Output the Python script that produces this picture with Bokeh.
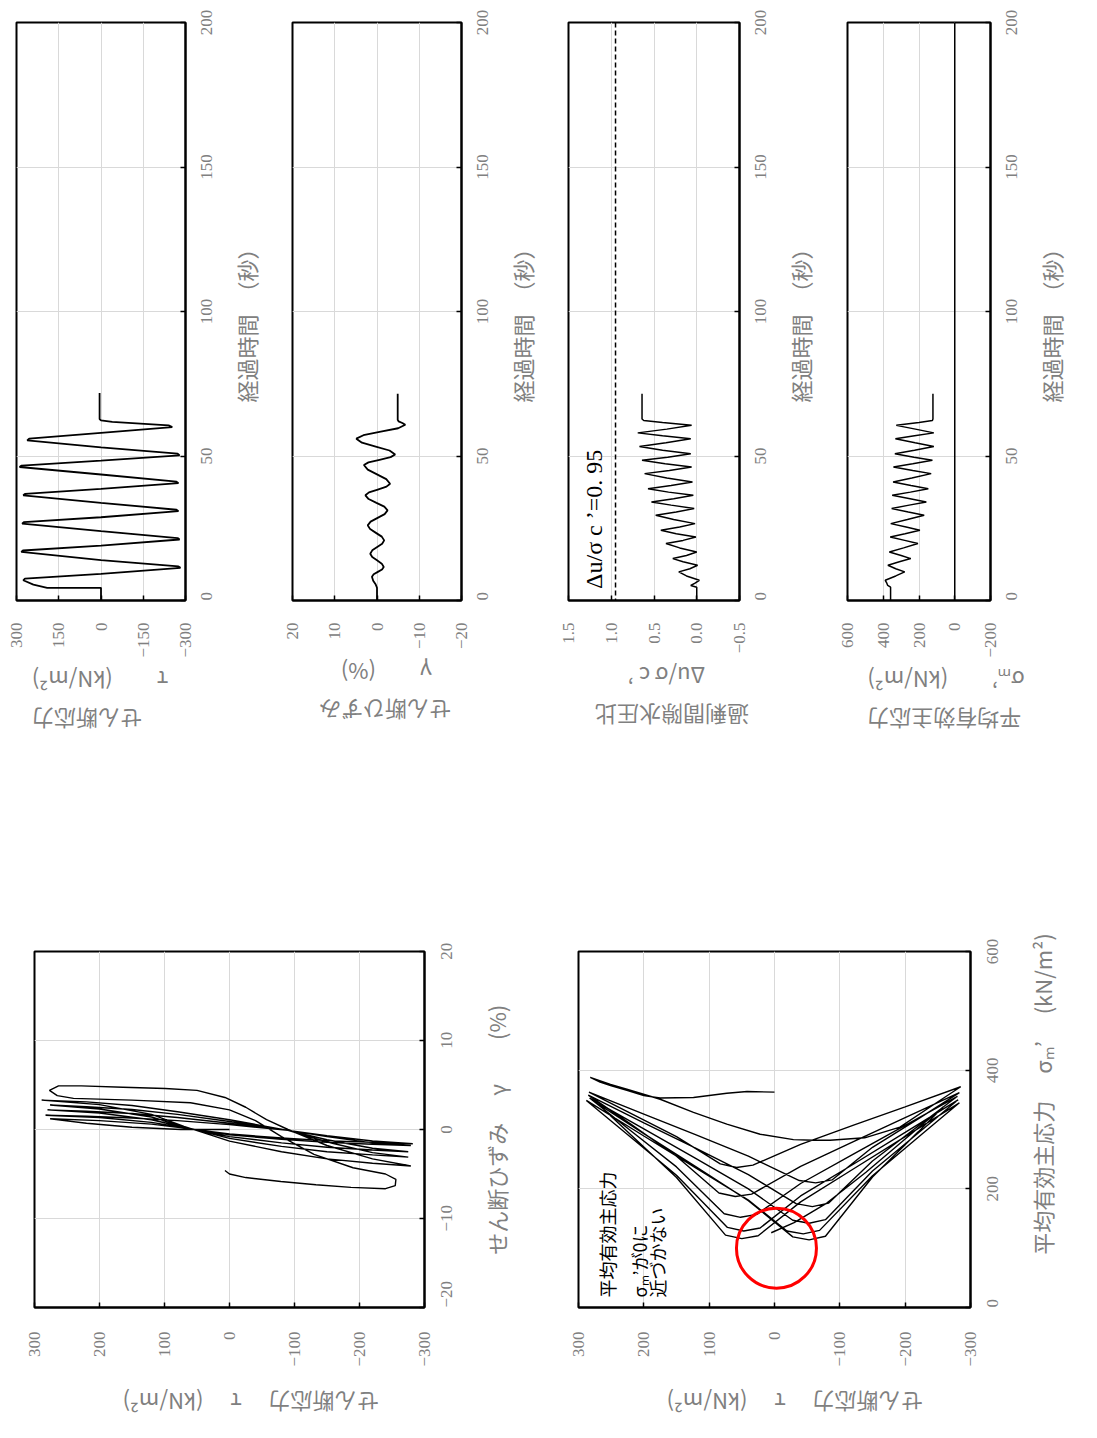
import math
from bokeh.plotting import figure
from bokeh.layouts import column, row
from bokeh.models import FixedTicker, Span, Label, LinearAxis
from bokeh.embed import file_html
from bokeh.resources import INLINE

# ---------------- data ----------------
# time series: shear stress tau (kN/m2)
t_tau = [0, 4.4, 4.4, 5.5, 7.0, 7.6, 9.2, 11.3, 11.8, 14.0, 16.8, 17.3, 19.0, 21.1, 21.6, 24.0,
         26.6, 27.1, 28.8, 30.9, 31.4, 33.8, 36.4, 36.9, 38.6, 40.6, 41.1, 43.6, 46.2, 46.7,
         48.4, 50.2, 50.8, 53.0, 55.4, 56.0, 58.0, 60.0, 60.6, 61.8, 62.3, 62.8, 71.8]
tau_series = [0, 0, 191, 240, 276, 270, 0, -282, -275, 0, 283, 277, 0, -279, -272, 0,
              280, 274, 0, -275, -268, 0, 276, 270, 0, -275, -268, 0, 289, 282,
              0, -279, -272, 0, 262, 255, 0, -253, -240, -40, 0, 5, 5]

# time series: shear strain gamma (%)
t_gamma = [0, 4.4, 5.5, 6.8, 8.2, 9.05, 9.9, 10.75, 11.6, 12.75, 13.9, 15.05, 16.2, 17.35, 18.5,
           19.65, 20.8, 22.1, 23.4, 24.7, 26.0, 27.3, 28.6, 29.9, 31.2, 32.5, 33.8, 35.1, 36.4,
           37.4, 38.4, 39.4, 40.4, 42.0, 43.65, 45.3, 46.9, 47.8, 48.7, 49.6, 50.5, 51.9, 53.25,
           54.6, 56.0, 57.2, 58.4, 59.6, 60.8, 61.4, 62.0, 62.5, 71.5]
gamma_series = [0, 0, 0.3, 0.9, 1.2, 0.79, -0.2, -1.19, -1.6, -1.13, 0, 1.13, 1.6, 1.12, -0.05,
                -1.22, -1.7, -1.13, 0.25, 1.63, 2.2, 1.51, -0.15, -1.81, -2.5, -1.73, 0.13, 1.98, 2.75,
                1.9, -0.18, -2.25, -3.1, -2.19, 0, 2.19, 3.1, 2.02, -0.6, -3.22, -4.3, -2.96, 0.3,
                3.56, 4.9, 3.21, -0.9, -5.01, -6.7, -6.0, -5.1, -4.9, -4.9]

# time series: excess pore pressure ratio
t_ratio = [0, 4.6, 5.2, 6.0, 7.0, 8.5, 9.9, 11.0, 12.2, 13.4, 14.5, 15.6, 16.8, 18.2, 19.7, 20.8,
           22.0, 23.1, 24.3, 25.4, 26.6, 28.0, 29.5, 30.6, 31.8, 33.0, 34.1, 35.2, 36.4, 37.5, 38.7,
           39.8, 41.0, 42.4, 43.9, 45.0, 46.2, 47.3, 48.5, 49.6, 50.8, 52.0, 53.3, 54.6, 56.0, 57.0,
           58.0, 59.3, 60.6, 61.6, 62.3, 62.8, 71.5]
ratio_series = [0, 0, 0.07, 0.02, -0.03, 0.12, 0.21, 0.08, -0.01, 0.16, 0.28, 0.12, 0.0, 0.2, 0.36, 0.16,
                0.01, 0.24, 0.42, 0.2, 0.02, 0.27, 0.48, 0.24, 0.03, 0.3, 0.53, 0.27, 0.04, 0.33, 0.57,
                0.3, 0.05, 0.35, 0.61, 0.32, 0.06, 0.37, 0.64, 0.34, 0.07, 0.4, 0.67, 0.36, 0.07, 0.4,
                0.69, 0.35, 0.06, 0.4, 0.62, 0.64, 0.64]
ratio_limit = 0.95

# time series: mean effective principal stress (kN/m2)
t_sigma = [0, 4.6, 5.2, 6.0, 7.0, 8.5, 9.9, 11.0, 12.2, 13.4, 14.5, 15.6, 16.8, 18.2, 19.7, 20.8,
           22.0, 23.1, 24.3, 25.4, 26.6, 28.0, 29.5, 30.6, 31.8, 33.0, 34.1, 35.2, 36.4, 37.5, 38.7,
           39.8, 41.0, 42.4, 43.9, 45.0, 46.2, 47.3, 48.5, 49.6, 50.8, 52.0, 53.3, 54.6, 56.0, 57.0,
           58.0, 59.3, 60.6, 61.6, 62.3, 62.8, 71.5]
sigma_series = [359, 359, 375, 380, 389, 330, 280, 330, 374, 310, 246, 300, 366, 286, 206, 280,
                361, 278, 195, 272, 358, 265, 171, 260, 353, 255, 159, 250, 350, 248, 148,
                245, 345, 240, 132, 235, 343, 235, 125, 228, 335, 225, 117, 222, 332, 225,
                117, 220, 327, 200, 125, 122, 122]

# tau - gamma loops
loop_tau = [0, 75, 150, 220, 276,
            200, 120, 70, 0, -80, -150, -220, -282,
            -220, -150, -90, 0, 80, 150, 220, 283,
            200, 120, 70, 0, -80, -150, -220, -279,
            -220, -150, -90, 0, 80, 150, 220, 280,
            200, 120, 70, 0, -80, -150, -220, -275,
            -220, -150, -90, 0, 80, 150, 220, 276,
            200, 120, 70, 0, -80, -150, -220, -275,
            -220, -150, -90, 0, 80, 150, 220, 289,
            200, 120, 70, 0, -80, -150, -220, -279,
            -220, -150, -90, -57, -25, 7, 50, 99, 164, 228, 263, 277,
            265, 240, 150, 60, 0, -40, -80, -130, -190, -240, -256, -255, -240,
            -187, -133, -79, -25, 0, 7]
loop_gamma = [0, 0, 0.25, 0.7, 1.2,
              1.0, 0.6, 0.15, -0.5, -0.95, -1.25, -1.45, -1.6,
              -1.3, -0.7, -0.1, 0.55, 1.0, 1.3, 1.5, 1.6,
              1.35, 0.8, 0.2, -0.6, -1.1, -1.45, -1.65, -1.8,
              -1.5, -0.8, -0.1, 0.7, 1.35, 1.8, 2.05, 2.2,
              1.85, 1.1, 0.25, -0.8, -1.5, -2.0, -2.3, -2.5,
              -2.1, -1.15, -0.1, 0.9, 1.7, 2.25, 2.55, 2.75,
              2.3, 1.4, 0.3, -1.0, -1.9, -2.5, -2.85, -3.1,
              -2.6, -1.4, -0.1, 1.1, 2.0, 2.7, 3.1, 3.3,
              2.8, 1.7, 0.35, -1.3, -2.5, -3.3, -3.8, -4.1,
              -3.3, -1.8, 0, 1.1, 2.5, 3.6, 4.4, 4.6, 4.75, 4.9, 4.9, 4.4,
              3.8, 3.5, 3.3, 3.0, 2.2, 1.0, -0.8, -2.8, -4.3, -5.0, -5.6, -6.3, -6.65,
              -6.5, -6.2, -5.85, -5.4, -5.0, -4.6]

# stress path: tau - sigma_m'
path_tau = [0, 42, 73, 124, 175, 200, 226, 251, 267, 282,
            251, 226, 175, 124, 73, 22, -29, -60, -85, -138, -192, -245, -285,
            -200, -120, -40, 33, 58, 83, 150, 220, 284,
            200, 120, 40, -38, -63, -88, -150, -220, -283,
            -200, -120, -40, 35, 60, 85, 150, 220, 285,
            200, 120, 40, -33, -58, -83, -150, -220, -280,
            -200, -120, -40, 27, 52, 77, 150, 220, 283,
            200, 120, 40, -28, -53, -78, -150, -220, -281,
            -200, -120, -40, 22, 47, 72, 150, 220, 288,
            200, 120, 40, -19, -44, -69, -150, -220, -283,
            -200, -120, -40, 25, 50, 75, 150, 220, 270,
            200, 120, 40, -28, -53, -78, -150, -220, -258,
            -200, -140, -80, -30, 5]
path_sigma = [363, 364, 361, 354, 353, 357, 366, 374, 380, 388,
              376, 368, 351, 329, 309, 292, 283, 282, 282, 286, 304, 343, 372,
              338, 307, 275, 240, 236, 242, 288, 327, 363,
              326, 291, 255, 214, 210, 215, 270, 318, 362,
              320, 279, 238, 191, 187, 193, 255, 309, 358,
              311, 268, 224, 175, 170, 176, 247, 306, 356,
              307, 258, 209, 157, 152, 158, 237, 298, 353,
              301, 251, 200, 147, 142, 148, 230, 294, 350,
              295, 241, 188, 134, 129, 135, 223, 287, 349,
              289, 235, 181, 129, 124, 130, 222, 287, 345,
              288, 233, 178, 121, 116, 122, 219, 291, 343,
              293, 237, 180, 119, 114, 120, 220, 296, 338,
              284, 228, 176, 143, 126]
circle_tau = [-3]
circle_sigma = [100]

# ticks
time_ticks = [0, 50, 100, 150, 200]
tau_ticks_ts = [300, 150, 0, -150, -300]
gamma_ticks_ts = [20, 10, 0, -10, -20]
ratio_ticks = [1.5, 1.0, 0.5, 0.0, -0.5]
sigma_ticks_ts = [600, 400, 200, 0, -200]
tau_ticks = [300, 200, 100, 0, -100, -200, -300]
gamma_ticks = [-20, -10, 0, 10, 20]
sigma_ticks = [0, 200, 400, 600]

# ---------------- styling ----------------
JP = "Noto Sans CJK JP"
NUM = "Liberation Serif"
GREY = "#808080"
FW = "\u3000"      # full-width space
EN = "\u2002"      # en space
TH = "\u2009"      # thin space
TICK_PX = 17


def fmt(v):
    s = ("%g" % v) if not isinstance(v, float) or v != int(v) else "%d" % v
    return s.replace("-", "\u2212")


def text_px(s):
    w = 0.0
    for ch in s:
        w += {"\u2212": 0.564, ".": 0.25}.get(ch, 0.5) * TICK_PX
    return w


def panel(w, h, bl, br, bt, bb, xr, yr, xticks, yticks, xlabel, ylabel,
          xstand, ystand, xlstand, ylstand, frame_h, xfmt=None):
    p = figure(width=w, height=h, x_range=xr, y_range=yr,
               x_axis_location="below", y_axis_location="right",
               output_backend="svg", toolbar_location=None,
               min_border_left=bl, min_border_right=br,
               min_border_top=bt, min_border_bottom=bb)
    p.outline_line_color = "black"
    p.outline_line_width = 2
    p.background_fill_color = "white"
    p.border_fill_color = "white"

    xa = p.xaxis[0]
    ya = p.yaxis[0]
    # rotated labels of the vertical axis start at their anchor, so a second,
    # line-less axis carries them, anchored half a label below each tick
    span = yr[1] - yr[0]
    ytexts = [fmt(v) for v in yticks]
    lab_pos = [v if v == yr[0] else v - text_px(t) / 2 * span / frame_h
               for v, t in zip(yticks, ytexts)]
    ylab = LinearAxis(ticker=FixedTicker(ticks=lab_pos),
                      major_label_overrides={pos: t for pos, t in zip(lab_pos, ytexts)})
    p.add_layout(ylab, "right")

    for ax, ticks in ((xa, xticks), (ya, yticks), (ylab, None)):
        if ticks is not None:
            ax.ticker = FixedTicker(ticks=ticks)
        ax.axis_line_color = "black"
        ax.axis_line_width = 2
        ax.major_tick_in = 5
        ax.major_tick_out = 0
        ax.minor_tick_in = 0
        ax.minor_tick_out = 0
        ax.major_tick_line_color = "black"
        ax.major_tick_line_width = 1.5
        ax.minor_tick_line_color = None
        ax.major_label_text_font = NUM
        ax.major_label_text_font_size = "%dpx" % TICK_PX
        ax.major_label_text_color = GREY
        ax.axis_label_text_font = JP
        ax.axis_label_text_font_size = "22px"
        ax.axis_label_text_color = GREY
        ax.axis_label_text_font_style = "normal"
    xa.major_label_overrides = {v: (xfmt(v) if xfmt else fmt(v)) for v in xticks}
    xa.major_label_orientation = math.pi / 2
    xa.major_label_standoff = xstand
    xa.axis_label = xlabel
    xa.axis_label_orientation = math.pi
    xa.axis_label_align = "end"
    xa.axis_label_standoff = xlstand

    ya.major_label_text_font_size = "0px"
    ya.major_label_standoff = 0
    ya.major_label_overrides = {v: "" for v in yticks}

    ylab.axis_line_color = None
    ylab.major_tick_line_color = None
    ylab.major_tick_in = 0
    ylab.major_label_orientation = math.pi / 2
    ylab.major_label_standoff = ystand
    ylab.axis_label = ylabel
    ylab.axis_label_orientation = math.pi / 2
    ylab.axis_label_align = "start"
    ylab.axis_label_standoff = ylstand

    p.xgrid.grid_line_color = "#d9d9d9"
    p.ygrid.grid_line_color = "#d9d9d9"
    p.xgrid.grid_line_width = 1
    p.ygrid.grid_line_width = 1
    return p


TIME_LABEL = FW * 9 + "経過時間" + FW + "（秒）"
TOP_B, TOP_F, BOT_B = 22, 578, 175
H_TOP = TOP_B + TOP_F + BOT_B

p1 = panel(280, H_TOP, 16, 95, TOP_B, BOT_B, (300, -300), (0, 200), tau_ticks_ts, time_ticks,
           "せん断応力" + EN + TH + "\nτ" + FW + FW + "(kN/m²)" + EN + TH,
           TIME_LABEL, 22, 21, 40, 25, TOP_F)
p1.line(tau_series, t_tau, line_color="black", line_width=1.8)

p2 = panel(276, H_TOP, 12, 94, TOP_B, BOT_B, (20, -20), (0, 200), gamma_ticks_ts, time_ticks,
           "せん断ひずみ" + FW + TH + "\nγ" + FW + FW + "(%)" + FW + FW + TH,
           TIME_LABEL, 22, 21, 40, 25, TOP_F)
p2.line(gamma_series, t_gamma, line_color="black", line_width=1.8)

p3 = panel(279, H_TOP, 12, 96, TOP_B, BOT_B, (1.5, -0.5), (0, 200), ratio_ticks, time_ticks,
           "過剰間隙水圧比" + FW + TH + "\nΔu/σ c ’" + FW + FW + EN + TH,
           TIME_LABEL, 22, 21, 40, 25, TOP_F,
           xfmt=lambda v: ("%.1f" % v).replace("-", "\u2212"))
p3.line(ratio_series, t_ratio, line_color="black", line_width=1.5)
p3.add_layout(Span(location=ratio_limit, dimension="height", line_color="black",
                   line_width=1.5, line_dash="5 3"))
p3.add_layout(Label(x=1.05, y=4.0, text="Δu/σ c ’=0. 95", angle=math.pi / 2,
                    text_align="left", text_baseline="bottom", text_font=NUM,
                    text_font_size="24px", text_color="black"))

p4 = panel(250, H_TOP, 12, 67, TOP_B, BOT_B, (600, -200), (0, 200), sigma_ticks_ts, time_ticks,
           "平均有効主応力" + EN + TH + TH + "\nσₘ’" + FW + FW + "(kN/m²)" + EN + TH + TH,
           TIME_LABEL, 22, 21, 40, 25, TOP_F)
p4.line(sigma_series, t_sigma, line_color="black", line_width=1.5)
p4.add_layout(Span(location=0, dimension="height", line_color="black", line_width=1.5))

# lower row: frames at y 945/951 .. 1307
A_TOP = 945 - H_TOP
B_TOP = 951 - H_TOP
LOW_B = 130
pA = panel(560, A_TOP + 362 + LOW_B, 34, 136, A_TOP, LOW_B, (300, -300), (-20, 20), tau_ticks, gamma_ticks,
           "せん断応力" + FW + " τ" + FW + " (kN/m²)" + FW * 4,
           FW + FW + TH + TH + "せん断ひずみ" + FW + " γ" + FW + FW + "(%)", 24, 22, 33, 35, 362)
pA.line(loop_tau, loop_gamma, line_color="black", line_width=1.4)

pB = panel(525, B_TOP + 356 + LOW_B, 18, 115, B_TOP, LOW_B, (300, -300), (0, 600), tau_ticks, sigma_ticks,
           "せん断応力" + FW + " τ" + FW + " (kN/m²)" + FW * 4,
           FW + FW + TH + TH + "平均有効主応力" + FW + " σₘ’" + FW + " (kN/m²)", 24, 22, 33, 35, 356)
pB.line(path_tau, path_sigma, line_color="black", line_width=1.4)
pB.scatter(circle_tau, circle_sigma, marker="circle", size=80, fill_color=None,
           line_color="#ff0000", line_width=3)
for tx, ty, txt in ((277, 17, "平均有効主応力"), (228, 17, "σₘ’が0に"), (200, 17, "近づかない")):
    pB.add_layout(Label(x=tx, y=ty, text=txt, angle=math.pi / 2, text_align="left",
                        text_baseline="top", text_font=JP, text_font_size="18px",
                        text_color="black"))

layout = column(row(p1, p2, p3, p4), row(pA, pB))
open("out.html", "w").write(file_html(layout, INLINE))
